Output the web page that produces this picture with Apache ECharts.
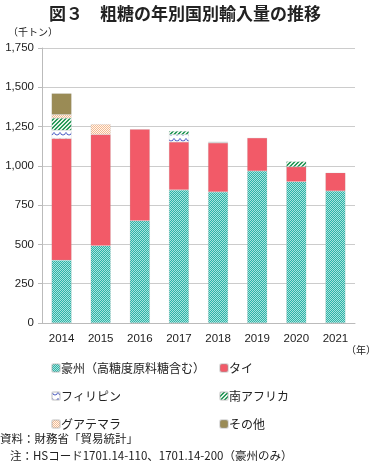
<!DOCTYPE html>
<html><head><meta charset="utf-8">
<script src="https://cdn.jsdelivr.net/npm/echarts@6/dist/echarts.min.js"></script>
<style>html,body{margin:0;padding:0;background:#fff}#c{width:370px;height:467px}</style>
</head><body><div id="c"></div>
<script>
const years = ['2014','2015','2016','2017','2018','2019','2020','2021'];
const australia = [400, 492, 650, 847, 834, 967, 899, 840];
const thailand = [774, 707, 583, 305, 312, 211, 95, 116];
const philippines = [52, 0, 0, 47, 4, 0, 0, 0];
const southAfrica = [78, 0, 0, 22, 2, 0, 34, 0];
const guatemala = [22, 66, 0, 0, 0, 0, 0, 0];
const others = [135, 0, 0, 0, 0, 0, 0, 0];
const seriesNames = ['豪州（高糖度原料糖含む）','タイ','フィリピン','南アフリカ','グアテマラ','その他'];
const yTicks = [0,250,500,750,1000,1250,1500,1750];

function mk(w,h,draw){const c=document.createElement('canvas');c.width=w;c.height=h;const x=c.getContext('2d');draw(x);return {image:c,repeat:'repeat'};}
const patAus = mk(2,2,x=>{x.fillStyle='#2db3a7';x.fillRect(0,0,2,2);x.fillStyle='#a8e4de';x.fillRect(0,0,1,1);x.fillRect(1,1,1,1);});
const patPhil = mk(6,6,x=>{x.fillStyle='#fff';x.fillRect(0,0,6,6);x.strokeStyle='#4f5fc4';x.lineWidth=1;x.beginPath();x.arc(3,0.5,2.5,0,Math.PI);x.stroke();});
const patSA = mk(4,4,x=>{x.fillStyle='#e6f5ea';x.fillRect(0,0,4,4);x.fillStyle='#2a9a5c';for(let i=0;i<4;i++){x.fillRect(i,3-i,1,1);x.fillRect((i+1)%4,3-i,1,1);}});
const patGua = mk(2,2,x=>{x.fillStyle='#fff6ee';x.fillRect(0,0,2,2);x.fillStyle='#f4bb92';x.fillRect(0,0,1,1);x.fillRect(1,1,1,1);});

const colors = [patAus,'#f25a68',patPhil,patSA,patGua,'#9a8b55'];
const datas = [australia,thailand,philippines,southAfrica,guatemala,others];
const series = datas.map((d,i)=>({
  name: seriesNames[i], type:'bar', stack:'t', barWidth:20,
  data: d.map(v=>v===0?null:v),
  itemStyle:{color:colors[i], borderColor:'rgba(160,160,160,0.35)', borderWidth:0.5},
  emphasis:{disabled:true}
}));

const chart = echarts.init(document.getElementById('c'));
const font = "'Noto Sans CJK JP', sans-serif";
const numFont = "'Liberation Sans', Arial, sans-serif";
chart.setOption({
  animation:false,
  textStyle:{fontFamily:font},
  title:{text:'図３　粗糖の年別国別輸入量の推移', left:'center', top:0,
    textStyle:{fontSize:17, fontWeight:'bold', color:'#222', fontFamily:font}},
  grid:{left:42, right:15, top:48, bottom:144},
  legend:[
    {orient:'vertical', left:46, top:355, itemWidth:8, itemHeight:8, itemGap:12,
     data:[seriesNames[0],seriesNames[2],seriesNames[4]],
     textStyle:{fontSize:12, color:'#222', padding:[0,0,0,-4], lineHeight:16}},
    {orient:'vertical', left:214, top:355, itemWidth:8, itemHeight:8, itemGap:12,
     data:[seriesNames[1],seriesNames[3],seriesNames[5]],
     textStyle:{fontSize:12, color:'#222', padding:[0,0,0,-4], lineHeight:16}}
  ],
  xAxis:{type:'category', data:years,
    axisLine:{lineStyle:{color:'#bbb'}}, axisTick:{lineStyle:{color:'#bbb'}, length:5},
    axisLabel:{fontSize:11.5, color:'#222', margin:10, fontFamily:numFont}},
  yAxis:{type:'value', min:0, max:1750, interval:250,
    axisLine:{show:true, lineStyle:{color:'#bbb'}}, axisTick:{show:true, length:4, lineStyle:{color:'#bbb'}},
    splitLine:{lineStyle:{color:'#ccc'}},
    axisLabel:{fontSize:11.5, color:'#222', margin:8, fontFamily:numFont,
      formatter:v=>yTicks.includes(v)?v.toLocaleString('en-US'):''}},
  graphic:[
    {type:'text', left:8, top:27, style:{text:'（千トン）', fill:'#222', font:'10px '+font}},
    {type:'text', left:346, top:345, style:{text:'（年）', fill:'#222', font:'10px '+font}},
    {type:'text', left:0, top:433, style:{text:'資料：財務省「貿易統計」', fill:'#222', font:'11.5px '+font}},
    {type:'text', left:10, top:450, style:{text:'注：HSコード1701.14-110、1701.14-200（豪州のみ）', fill:'#222', font:'11.5px '+font}}
  ],
  series
});
</script></body></html>
